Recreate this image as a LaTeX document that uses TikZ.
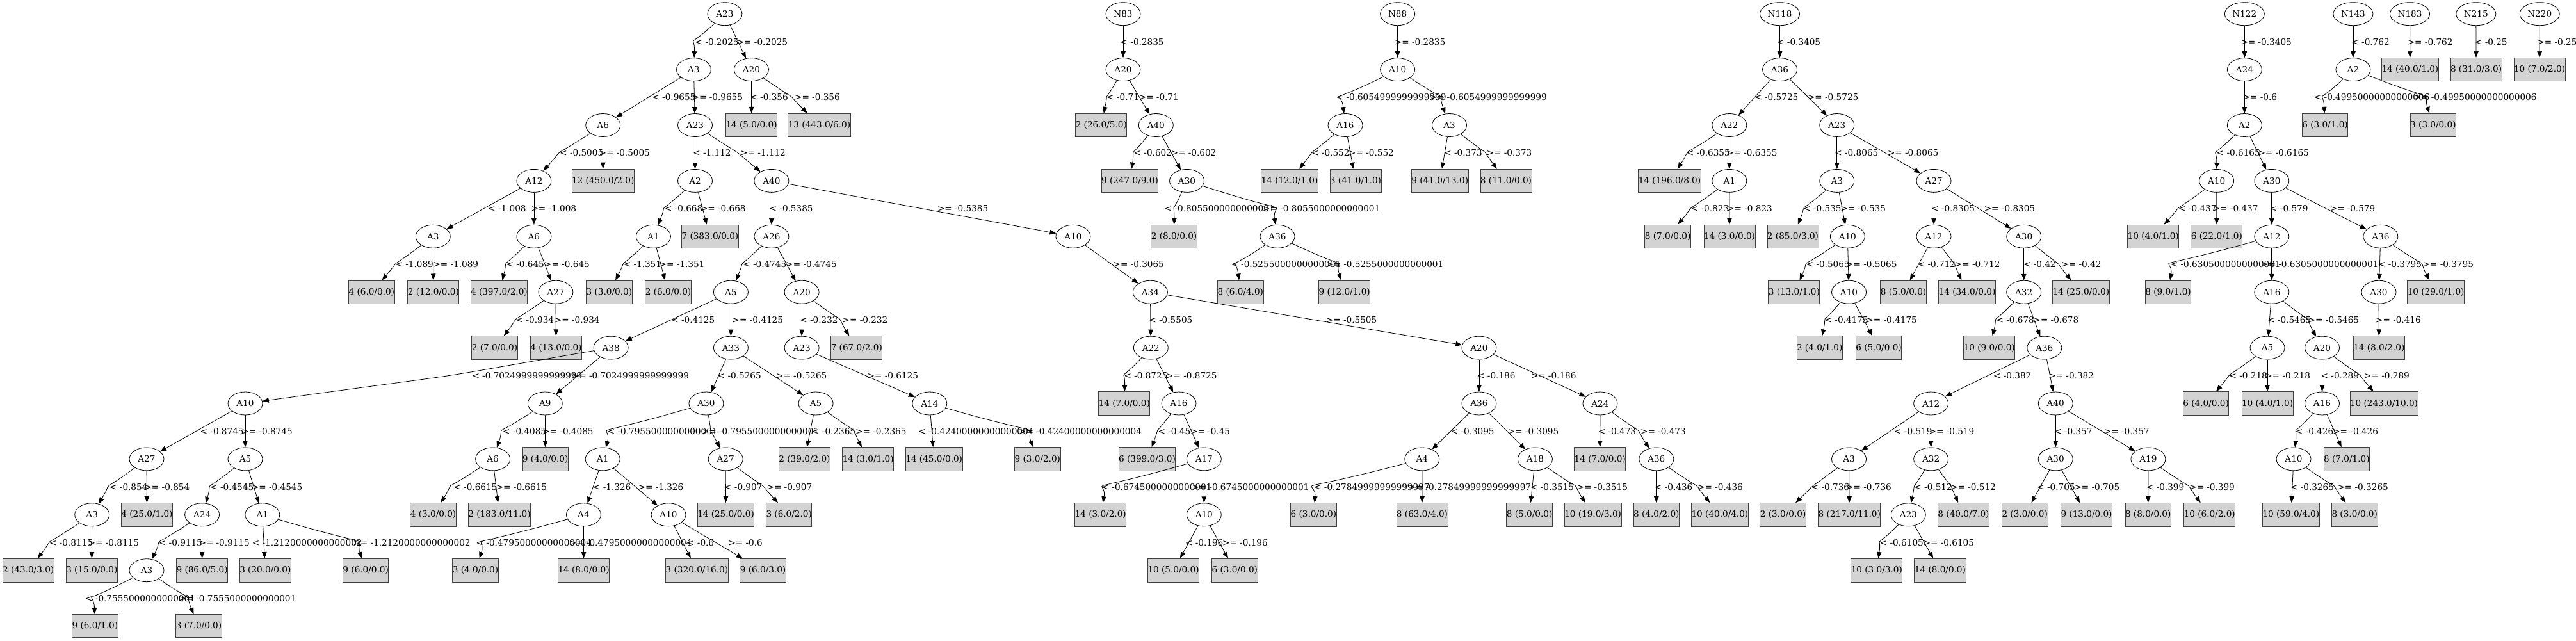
\documentclass[tikz,border=0pt]{standalone}
\usepackage{fontspec}
\setmainfont{DejaVu Serif}
\usetikzlibrary{shapes.geometric,arrows.meta,calc}
\definecolor{leafgray}{HTML}{D3D3D3}
\newcommand\gvfont{\fontsize{13.6}{16}\selectfont}
\tikzset{
  gvnode/.style={ellipse, draw=black, line width=0.8pt, minimum width=54pt, minimum height=36pt, inner sep=3pt, font=\gvfont},
  gvleaf/.style={rectangle, draw=black!75, line width=0.9pt, fill=leafgray, inner xsep=0pt, inner ysep=0pt, minimum height=36.5pt, font=\gvfont},
  gvlab/.style={inner sep=0pt, anchor=west, font=\gvfont},
  gvedge/.style={draw=black, line width=0.8pt, -{Triangle[length=10pt,width=7.5pt]}}
}
% straight edge: parent, child, label x, row, text
\newcommand\es[5]{\draw[gvedge] (#1) -- (#2); \node[gvlab] (l#2) at (#3,#4) {#5};}
% curved edge through (mx,row): parent, child, label x, row, text, mx
\newcommand\ec[6]{\draw[gvedge] (#1) .. controls ($(#1)!4/3!(#6,#4)$) and ($(#2)!4/3!(#6,#4)$) .. (#2); \node[gvlab] (l#2) at (#3,#4) {#5};}
\begin{document}
\begin{tikzpicture}[x=1pt,y=-86.9pt]
\fill[white] (0,-0.2497) rectangle (4023,11.2693);
\useasboundingbox (0,-0.2497) rectangle (4023,11.2693);

% ---------------- Tree 1 (A23) ----------------
\node[gvnode] (a0) at (1131.9,0) {A23};
\node[gvnode] (a1) at (1083.4,1) {A3};
\node[gvnode] (a2) at (1173.4,1) {A20};
\node[gvnode] (a3) at (941.7,2) {A6};
\node[gvnode] (a4) at (1085.5,2) {A23};
\node[gvnode] (a5) at (833.9,3) {A12};
\node[gvnode] (a6) at (1085.5,3) {A2};
\node[gvnode] (a7) at (1204.9,3) {A40};
\node[gvnode] (a8) at (676.3,4) {A3};
\node[gvnode] (a9) at (833.9,4) {A6};
\node[gvnode] (a10) at (1020.4,4) {A1};
\node[gvnode] (a11) at (1204.9,4) {A26};
\node[gvnode] (a12) at (1675.9,4) {A10};
\node[gvnode] (a13) at (867.9,5) {A27};
\node[gvnode] (a14) at (1141.4,5) {A5};
\node[gvnode] (a15) at (1252.1,5) {A20};
\node[gvnode] (a16) at (1796.4,5) {A34};
\node[gvnode] (a17) at (954.1,6) {A38};
\node[gvnode] (a18) at (1141.4,6) {A33};
\node[gvnode] (a19) at (1252.1,6) {A23};
\node[gvnode] (a20) at (1797.3,6) {A22};
\node[gvnode] (a21) at (2309.9,6) {A20};
\node[gvnode] (a22) at (383,7) {A10};
\node[gvnode] (a23) at (851.3,7) {A9};
\node[gvnode] (a24) at (1102.9,7) {A30};
\node[gvnode] (a25) at (1274.1,7) {A5};
\node[gvnode] (a26) at (1451.8,7) {A14};
\node[gvnode] (a27) at (1841,7) {A16};
\node[gvnode] (a28) at (2309.9,7) {A36};
\node[gvnode] (a29) at (2498.9,7) {A24};
\node[gvnode] (a30) at (229,8) {A27};
\node[gvnode] (a31) at (383,8) {A5};
\node[gvnode] (a32) at (769.6,8) {A6};
\node[gvnode] (a33) at (941.2,8) {A1};
\node[gvnode] (a34) at (1133.2,8) {A27};
\node[gvnode] (a35) at (1880.3,8) {A17};
\node[gvnode] (a36) at (2220.8,8) {A4};
\node[gvnode] (a37) at (2397.4,8) {A18};
\node[gvnode] (a38) at (2586.8,8) {A36};
\node[gvnode] (a39) at (143.7,9) {A3};
\node[gvnode] (a40) at (315.6,9) {A24};
\node[gvnode] (a41) at (409.8,9) {A1};
\node[gvnode] (a42) at (911.4,9) {A4};
\node[gvnode] (a43) at (1044,9) {A10};
\node[gvnode] (a44) at (1880.3,9) {A10};
\node[gvnode] (a45) at (229,10) {A3};

\node[gvleaf] (aL1) at (1173.6,2) {14 (5.0/0.0)};
\node[gvleaf] (aL2) at (1279.5,2) {13 (443.0/6.0)};
\node[gvleaf] (aL3) at (941.7,3) {12 (450.0/2.0)};
\node[gvleaf] (aL4) at (1108.9,4) {7 (383.0/0.0)};
\node[gvleaf] (aL5) at (580.3,5) {4 (6.0/0.0)};
\node[gvleaf] (aL6) at (676.9,5) {2 (12.0/0.0)};
\node[gvleaf] (aL7) at (779.4,5) {4 (397.0/2.0)};
\node[gvleaf] (aL8) at (951.4,5) {3 (3.0/0.0)};
\node[gvleaf] (aL9) at (1043.6,5) {2 (6.0/0.0)};
\node[gvleaf] (aL10) at (772.5,6) {2 (7.0/0.0)};
\node[gvleaf] (aL11) at (868.5,6) {4 (13.0/0.0)};
\node[gvleaf] (aL12) at (1337.8,6) {7 (67.0/2.0)};
\node[gvleaf] (aL13) at (1755.8,7) {14 (7.0/0.0)};
\node[gvleaf] (aL14) at (851.7,8) {9 (4.0/0.0)};
\node[gvleaf] (aL15) at (1256.5,8) {2 (39.0/2.0)};
\node[gvleaf] (aL16) at (1355.6,8) {14 (3.0/1.0)};
\node[gvleaf] (aL17) at (1458.7,8) {14 (45.0/0.0)};
\node[gvleaf] (aL18) at (1620.3,8) {9 (3.0/2.0)};
\node[gvleaf] (aL19) at (1791.5,8) {6 (399.0/3.0)};
\node[gvleaf] (aL20) at (2498.7,8) {14 (7.0/0.0)};
\node[gvleaf] (aL21) at (229.5,9) {4 (25.0/1.0)};
\node[gvleaf] (aL22) at (676.6,9) {4 (3.0/0.0)};
\node[gvleaf] (aL23) at (780,9) {2 (183.0/11.0)};
\node[gvleaf] (aL24) at (1133.5,9) {14 (25.0/0.0)};
\node[gvleaf] (aL25) at (1232.2,9) {3 (6.0/2.0)};
\node[gvleaf] (aL26) at (1718.7,9) {14 (3.0/2.0)};
\node[gvleaf] (aL27) at (2051.4,9) {6 (3.0/0.0)};
\node[gvleaf] (aL28) at (2221,9) {8 (63.0/4.0)};
\node[gvleaf] (aL29) at (2388.6,9) {8 (5.0/0.0)};
\node[gvleaf] (aL30) at (2487.6,9) {10 (19.0/3.0)};
\node[gvleaf] (aL31) at (2586.8,9) {8 (4.0/2.0)};
\node[gvleaf] (aL32) at (2685.9,9) {10 (40.0/4.0)};
\node[gvleaf] (aL33) at (44.2,10) {2 (43.0/3.0)};
\node[gvleaf] (aL34) at (143.3,10) {3 (15.0/0.0)};
\node[gvleaf] (aL35) at (315.6,10) {9 (86.0/5.0)};
\node[gvleaf] (aL36) at (414.3,10) {3 (20.0/0.0)};
\node[gvleaf] (aL37) at (571.2,10) {9 (6.0/0.0)};
\node[gvleaf] (aL38) at (742.5,10) {3 (4.0/0.0)};
\node[gvleaf] (aL39) at (911.6,10) {14 (8.0/0.0)};
\node[gvleaf] (aL40) at (1088.4,10) {3 (320.0/16.0)};
\node[gvleaf] (aL41) at (1191.6,10) {9 (6.0/3.0)};
\node[gvleaf] (aL42) at (1832.6,10) {10 (5.0/0.0)};
\node[gvleaf] (aL43) at (1928.3,10) {6 (3.0/0.0)};
\node[gvleaf] (aL44) at (148.4,11) {9 (6.0/1.0)};
\node[gvleaf] (aL45) at (310.5,11) {3 (7.0/0.0)};

\ec{a0}{a1}{1085.5}{0.5}{< -0.2025}{1085}
\es{a0}{a2}{1150.6}{0.5}{>= -0.2025}
\es{a2}{aL1}{1171.3}{1.5}{< -0.356}
\ec{a2}{aL2}{1240.9}{1.5}{>= -0.356}{1236}
\es{a1}{a3}{1018.3}{1.5}{< -0.9655}
\es{a1}{a4}{1080.5}{1.5}{>= -0.9655}
\ec{a3}{a5}{874.1}{2.5}{< -0.5005}{874}
\es{a3}{aL3}{935.4}{2.5}{>= -0.5005}
\es{a4}{a6}{1082.2}{2.5}{< -1.112}
\ec{a4}{a7}{1156}{2.5}{>= -1.112}{1152}
\es{a5}{a8}{762.2}{3.5}{< -1.008}
\es{a5}{a9}{829.3}{3.5}{>= -1.008}
\ec{a6}{a10}{1037.8}{3.5}{< -0.668}{1038}
\es{a6}{aL4}{1093.8}{3.5}{>= -0.668}
\es{a7}{a11}{1201.5}{3.5}{< -0.5385}
\es{a7}{a12}{1463.8}{3.5}{>= -0.5385}
\ec{a8}{aL5}{617.4}{4.5}{< -1.089}{618}
\es{a8}{aL6}{676.3}{4.5}{>= -1.089}
\ec{a9}{aL7}{790.4}{4.5}{< -0.645}{791}
\es{a9}{a13}{850}{4.5}{>= -0.645}
\ec{a10}{aL8}{973.6}{4.5}{< -1.351}{974}
\es{a10}{aL9}{1029.5}{4.5}{>= -1.351}
\ec{a11}{a14}{1160.1}{4.5}{< -0.4745}{1160}
\es{a11}{a15}{1227.2}{4.5}{>= -0.4745}
\es{a12}{a16}{1738.4}{4.5}{>= -0.3065}
\ec{a13}{aL10}{805.7}{5.5}{< -0.934}{806}
\es{a13}{aL11}{865.8}{5.5}{>= -0.934}
\es{a14}{a17}{1048.2}{5.5}{< -0.4125}
\es{a14}{a18}{1143.5}{5.5}{>= -0.4125}
\es{a15}{a19}{1249.2}{5.5}{< -0.232}
\ec{a15}{aL12}{1315.5}{5.5}{>= -0.232}{1311}
\es{a16}{a20}{1794.2}{5.5}{< -0.5505}
\es{a16}{a21}{2070.7}{5.5}{>= -0.5505}
\ec{a17}{a22}{737.3}{6.5}{< -0.7024999999999999}{700}
\es{a17}{a23}{892.7}{6.5}{>= -0.7024999999999999}
\es{a18}{a24}{1120.7}{6.5}{< -0.5265}
\es{a18}{a25}{1211.9}{6.5}{>= -0.5265}
\es{a19}{a26}{1354.5}{6.5}{>= -0.6125}
\ec{a20}{aL13}{1755.3}{6.5}{< -0.8725}{1757}
\es{a20}{a27}{1821}{6.5}{>= -0.8725}
\es{a21}{a28}{2307}{6.5}{< -0.186}
\es{a21}{a29}{2390.6}{6.5}{>= -0.186}
\es{a22}{a30}{312.5}{7.5}{< -0.8745}
\es{a22}{a31}{377.2}{7.5}{>= -0.8745}
\ec{a23}{a32}{785}{7.5}{< -0.4085}{785}
\es{a23}{aL14}{847.1}{7.5}{>= -0.4085}
\ec{a24}{a33}{948.7}{7.5}{< -0.7955000000000001}{953}
\ec{a24}{a34}{1095.8}{7.5}{>= -0.7955000000000001}{1111}
\es{a25}{aL15}{1268}{7.5}{< -0.2365}
\ec{a25}{aL16}{1336}{7.5}{>= -0.2365}{1333}
\es{a26}{aL17}{1433.9}{7.5}{< -0.42400000000000004}
\ec{a26}{aL18}{1591}{7.5}{>= -0.42400000000000004}{1604}
\ec{a27}{aL19}{1808.4}{7.5}{< -0.45}{1808}
\es{a27}{a35}{1858.9}{7.5}{>= -0.45}
\es{a28}{a36}{2265.5}{7.5}{< -0.3095}
\es{a28}{a37}{2354.7}{7.5}{>= -0.3095}
\es{a29}{aL20}{2495.6}{7.5}{< -0.473}
\ec{a29}{a38}{2561.9}{7.5}{>= -0.473}{2558}
\ec{a30}{a39}{171}{8.5}{< -0.854}{170}
\es{a30}{aL21}{225.4}{8.5}{>= -0.854}
\ec{a31}{a40}{328.1}{8.5}{< -0.4545}{329}
\es{a31}{a41}{392.8}{8.5}{>= -0.4545}
\ec{a32}{aL22}{708.3}{8.5}{< -0.6615}{704}
\es{a32}{aL23}{774.6}{8.5}{>= -0.6615}
\es{a33}{a42}{925.9}{8.5}{< -1.326}
\es{a33}{a43}{996.4}{8.5}{>= -1.326}
\es{a34}{aL24}{1131}{8.5}{< -0.907}
\ec{a34}{aL25}{1197.4}{8.5}{>= -0.907}{1192}
\ec{a35}{aL26}{1720.5}{8.5}{< -0.6745000000000001}{1727}
\es{a35}{a44}{1861.1}{8.5}{>= -0.6745000000000001}
\ec{a36}{aL27}{2052}{8.5}{< -0.27849999999999997}{2055}
\es{a36}{aL28}{2199.2}{8.5}{>= -0.27849999999999997}
\es{a37}{aL29}{2389.9}{8.5}{< -0.3515}
\ec{a37}{aL30}{2462.4}{8.5}{>= -0.3515}{2460}
\es{a38}{aL31}{2583.9}{8.5}{< -0.436}
\ec{a38}{aL32}{2651}{8.5}{>= -0.436}{2650}
\ec{a39}{aL33}{76.8}{9.5}{< -0.8115}{78}
\es{a39}{aL34}{137.5}{9.5}{>= -0.8115}
\ec{a40}{a45}{247.8}{9.5}{< -0.9115}{250}
\es{a40}{aL35}{310.3}{9.5}{>= -0.9115}
\es{a41}{aL36}{393.7}{9.5}{< -1.2120000000000002}
\ec{a41}{aL37}{551.3}{9.5}{>= -1.2120000000000002}{557}
\ec{a42}{aL38}{743.5}{9.5}{< -0.47950000000000004}{757}
\es{a42}{aL39}{888.6}{9.5}{>= -0.47950000000000004}
\es{a43}{aL40}{1073}{9.5}{< -0.6}
\es{a43}{aL41}{1137.3}{9.5}{>= -0.6}
\es{a44}{aL42}{1850.9}{9.5}{< -0.196}
\es{a44}{aL43}{1908.9}{9.5}{>= -0.196}
\ec{a45}{aL44}{133}{10.5}{< -0.7555000000000001}{147}
\ec{a45}{aL45}{279}{10.5}{>= -0.7555000000000001}{292}

% ---------------- Tree 2 (N83) ----------------
\node[gvnode] (b0) at (1754,0) {N83};
\node[gvnode] (b1) at (1754,1) {A20};
\node[gvnode] (b2) at (1805.3,2) {A40};
\node[gvnode] (b3) at (1853.5,3) {A30};
\node[gvnode] (b4) at (1995,4) {A36};
\node[gvleaf] (bL1) at (1719.8,2) {2 (26.0/5.0)};
\node[gvleaf] (bL2) at (1764.5,3) {9 (247.0/9.0)};
\node[gvleaf] (bL3) at (1833.5,4) {2 (8.0/0.0)};
\node[gvleaf] (bL4) at (1937.3,5) {8 (6.0/4.0)};
\node[gvleaf] (bL5) at (2099.7,5) {9 (12.0/1.0)};
\es{b0}{b1}{1749.5}{0.5}{< -0.2835}
\ec{b1}{bL1}{1728.1}{1.5}{< -0.71}{1729}
\es{b1}{b2}{1778.6}{1.5}{>= -0.71}
\ec{b2}{bL2}{1770.5}{2.5}{< -0.602}{1771}
\es{b2}{b3}{1828.5}{2.5}{>= -0.602}
\ec{b3}{bL3}{1818.7}{3.5}{< -0.8055000000000001}{1834}
\ec{b3}{b4}{1972}{3.5}{>= -0.8055000000000001}{1988}
\ec{b4}{bL4}{1922.3}{4.5}{< -0.5255000000000001}{1932}
\ec{b4}{bL5}{2071}{4.5}{>= -0.5255000000000001}{2087}

% ---------------- Tree 3 (N88) ----------------
\node[gvnode] (c0) at (2182.6,0) {N88};
\node[gvnode] (c1) at (2182.6,1) {A10};
\node[gvnode] (c2) at (2101,2) {A16};
\node[gvnode] (c3) at (2263.5,2) {A3};
\node[gvleaf] (cL1) at (2014,3) {14 (12.0/1.0)};
\node[gvleaf] (cL2) at (2117,3) {3 (41.0/1.0)};
\node[gvleaf] (cL3) at (2248.8,3) {9 (41.0/13.0)};
\node[gvleaf] (cL4) at (2352,3) {8 (11.0/0.0)};
\es{c0}{c1}{2177.7}{0.5}{>= -0.2835}
\ec{c1}{c2}{2086.5}{1.5}{< -0.6054999999999999}{2096}
\ec{c1}{c3}{2232.4}{1.5}{>= -0.6054999999999999}{2248}
\ec{c2}{cL1}{2048}{2.5}{< -0.552}{2049}
\es{c2}{cL2}{2106}{2.5}{>= -0.552}
\es{c3}{cL3}{2255.2}{2.5}{< -0.373}
\ec{c3}{cL4}{2321.5}{2.5}{>= -0.373}{2319}

% ---------------- Tree 4 (N118) ----------------
\node[gvnode] (d0) at (2779.5,0) {N118};
\node[gvnode] (d1) at (2779.5,1) {A36};
\node[gvnode] (d2) at (2700.8,2) {A22};
\node[gvnode] (d3) at (2868.7,2) {A23};
\node[gvnode] (d4) at (2700.8,3) {A1};
\node[gvnode] (d5) at (2868.7,3) {A3};
\node[gvnode] (d6) at (3020,3) {A27};
\node[gvnode] (d7) at (2885.3,4) {A10};
\node[gvnode] (d8) at (3020,4) {A12};
\node[gvnode] (d9) at (3160.7,4) {A30};
\node[gvnode] (d10) at (2887.5,5) {A10};
\node[gvnode] (d11) at (3160.7,5) {A32};
\node[gvnode] (d12) at (3192.8,6) {A36};
\node[gvnode] (d13) at (3015.6,7) {A12};
\node[gvnode] (d14) at (3210.2,7) {A40};
\node[gvnode] (d15) at (2887.5,8) {A3};
\node[gvnode] (d16) at (3015.6,8) {A32};
\node[gvnode] (d17) at (3210.2,8) {A30};
\node[gvnode] (d18) at (3354.9,8) {A19};
\node[gvnode] (d19) at (2980.3,9) {A23};
\node[gvleaf] (dL1) at (2607.5,3) {14 (196.0/8.0)};
\node[gvleaf] (dL2) at (2604.6,4) {8 (7.0/0.0)};
\node[gvleaf] (dL3) at (2701,4) {14 (3.0/0.0)};
\node[gvleaf] (dL4) at (2800,4) {2 (85.0/3.0)};
\node[gvleaf] (dL5) at (2801.8,5) {3 (13.0/1.0)};
\node[gvleaf] (dL6) at (2972.5,5) {8 (5.0/0.0)};
\node[gvleaf] (dL7) at (3072,5) {14 (34.0/0.0)};
\node[gvleaf] (dL8) at (3249.8,5) {14 (25.0/0.0)};
\node[gvleaf] (dL9) at (2841.7,6) {2 (4.0/1.0)};
\node[gvleaf] (dL10) at (2934,6) {6 (5.0/0.0)};
\node[gvleaf] (dL11) at (3106.7,6) {10 (9.0/0.0)};
\node[gvleaf] (dL12) at (2784.6,9) {2 (3.0/0.0)};
\node[gvleaf] (dL13) at (2888.2,9) {8 (217.0/11.0)};
\node[gvleaf] (dL14) at (3066.5,9) {8 (40.0/7.0)};
\node[gvleaf] (dL15) at (3162.2,9) {2 (3.0/0.0)};
\node[gvleaf] (dL16) at (3258.5,9) {9 (13.0/0.0)};
\node[gvleaf] (dL17) at (3354.7,9) {8 (8.0/0.0)};
\node[gvleaf] (dL18) at (3450.7,9) {10 (6.0/2.0)};
\node[gvleaf] (dL19) at (2930.8,10) {10 (3.0/3.0)};
\node[gvleaf] (dL20) at (3029.9,10) {14 (8.0/0.0)};
\es{d0}{d1}{2775}{0.5}{< -0.3405}
\es{d1}{d2}{2740.2}{1.5}{< -0.5725}
\es{d1}{d3}{2822.8}{1.5}{>= -0.5725}
\ec{d2}{dL1}{2633.6}{2.5}{< -0.6355}{2636}
\es{d2}{d4}{2696}{2.5}{>= -0.6355}
\ec{d4}{dL2}{2640.7}{3.5}{< -0.823}{2641}
\es{d4}{dL3}{2697}{3.5}{>= -0.823}
\es{d3}{d5}{2865.2}{2.5}{< -0.8065}
\es{d3}{d6}{2947.8}{2.5}{>= -0.8065}
\ec{d5}{dL4}{2816.1}{3.5}{< -0.535}{2818}
\es{d5}{d7}{2874.1}{3.5}{>= -0.535}
\es{d6}{d8}{3016}{3.5}{< -0.8305}
\es{d6}{d9}{3098.6}{3.5}{>= -0.8305}
\ec{d7}{dL5}{2820.5}{4.5}{< -0.5065}{2822}
\es{d7}{d10}{2883}{4.5}{>= -0.5065}
\es{d8}{dL6}{2994.6}{4.5}{< -0.712}
\ec{d8}{dL7}{3052.7}{4.5}{>= -0.712}{3052}
\es{d9}{d11}{3159.8}{4.5}{< -0.42}
\ec{d9}{dL8}{3219.2}{4.5}{>= -0.42}{3214}
\ec{d10}{dL9}{2849.5}{5.5}{< -0.4175}{2851}
\es{d10}{dL10}{2914.3}{5.5}{>= -0.4175}
\ec{d11}{dL11}{3117.4}{5.5}{< -0.678}{3118}
\es{d11}{d12}{3175.4}{5.5}{>= -0.678}
\es{d12}{d13}{3112.9}{6.5}{< -0.382}
\es{d12}{d14}{3199.1}{6.5}{>= -0.382}
\es{d13}{d15}{2958}{7.5}{< -0.519}
\es{d13}{d16}{3012.5}{7.5}{>= -0.519}
\es{d14}{d17}{3208}{7.5}{< -0.357}
\es{d14}{d18}{3285.7}{7.5}{>= -0.357}
\ec{d15}{dL12}{2828.6}{8.5}{< -0.736}{2830}
\es{d15}{dL13}{2883}{8.5}{>= -0.736}
\ec{d16}{d19}{2989.3}{8.5}{< -0.512}{2990}
\ec{d16}{dL14}{3046}{8.5}{>= -0.512}{3047}
\es{d17}{dL15}{3181.2}{8.5}{< -0.705}
\es{d17}{dL16}{3239.3}{8.5}{>= -0.705}
\es{d18}{dL17}{3351.8}{8.5}{< -0.399}
\ec{d18}{dL18}{3419}{8.5}{>= -0.399}{3418}
\ec{d19}{dL19}{2935.7}{9.5}{< -0.6105}{2937}
\es{d19}{dL20}{3003.5}{9.5}{>= -0.6105}

% ---------------- Tree 5 (N122) ----------------
\node[gvnode] (e0) at (3505.3,0) {N122};
\node[gvnode] (e1) at (3505.3,1) {A24};
\node[gvnode] (e2) at (3505.3,2) {A2};
\node[gvnode] (e3) at (3461.6,3) {A10};
\node[gvnode] (e4) at (3547.8,3) {A30};
\node[gvnode] (e5) at (3547.8,4) {A12};
\node[gvnode] (e6) at (3717.8,4) {A36};
\node[gvnode] (e7) at (3547.8,5) {A16};
\node[gvnode] (e8) at (3715,5) {A30};
\node[gvnode] (e9) at (3541,6) {A5};
\node[gvnode] (e10) at (3626.5,6) {A20};
\node[gvnode] (e11) at (3626.5,7) {A16};
\node[gvnode] (e12) at (3582,8) {A10};
\node[gvleaf] (eL1) at (3362.7,4) {10 (4.0/1.0)};
\node[gvleaf] (eL2) at (3461.8,4) {6 (22.0/1.0)};
\node[gvleaf] (eL3) at (3386,5) {8 (9.0/1.0)};
\node[gvleaf] (eL4) at (3804.1,5) {10 (29.0/1.0)};
\node[gvleaf] (eL5) at (3715.3,6) {14 (8.0/2.0)};
\node[gvleaf] (eL6) at (3445.1,7) {6 (4.0/0.0)};
\node[gvleaf] (eL7) at (3541,7) {10 (4.0/1.0)};
\node[gvleaf] (eL8) at (3723,7) {10 (243.0/10.0)};
\node[gvleaf] (eL9) at (3664.9,8) {8 (7.0/1.0)};
\node[gvleaf] (eL10) at (3577.8,9) {10 (59.0/4.0)};
\node[gvleaf] (eL11) at (3677.2,9) {8 (3.0/0.0)};
\es{e0}{e1}{3499.3}{0.5}{>= -0.3405}
\es{e1}{e2}{3502.5}{1.5}{>= -0.6}
\ec{e2}{e3}{3461.6}{2.5}{< -0.6165}{3462}
\es{e2}{e4}{3526.3}{2.5}{>= -0.6165}
\ec{e3}{eL1}{3402}{3.5}{< -0.437}{3402}
\es{e3}{eL2}{3455.6}{3.5}{>= -0.437}
\es{e4}{e5}{3545}{3.5}{< -0.579}
\es{e4}{e6}{3638.4}{3.5}{>= -0.579}
\ec{e5}{eL3}{3389.7}{4.5}{< -0.6305000000000001}{3393}
\es{e5}{e7}{3531}{4.5}{>= -0.6305000000000001}
\es{e6}{e8}{3713.9}{4.5}{< -0.3795}
\ec{e6}{eL4}{3783.4}{4.5}{>= -0.3795}{3781}
\es{e7}{e9}{3541}{5.5}{< -0.5465}
\ec{e7}{e10}{3604.6}{5.5}{>= -0.5465}{3603}
\es{e8}{eL5}{3709.9}{5.5}{>= -0.416}
\ec{e9}{eL6}{3481.4}{6.5}{< -0.218}{3482}
\es{e9}{eL7}{3537.1}{6.5}{>= -0.218}
\es{e10}{e11}{3624.5}{6.5}{< -0.289}
\ec{e10}{eL8}{3692}{6.5}{>= -0.289}{3685}
\ec{e11}{e12}{3584.7}{7.5}{< -0.426}{3587}
\es{e11}{eL9}{3643.1}{7.5}{>= -0.426}
\es{e12}{eL10}{3576.8}{8.5}{< -0.3265}
\ec{e12}{eL11}{3650.3}{8.5}{>= -0.3265}{3645}

% ---------------- Trees 6-9 ----------------
\node[gvnode] (f0) at (3674.9,0) {N143};
\node[gvnode] (f1) at (3674.9,1) {A2};
\node[gvleaf] (fL1) at (3631,2) {6 (3.0/1.0)};
\node[gvleaf] (fL2) at (3799.9,2) {3 (3.0/0.0)};
\es{f0}{f1}{3672.2}{0.5}{< -0.762}
\ec{f1}{fL1}{3613.7}{1.5}{< -0.49950000000000006}{3629}
\ec{f1}{fL2}{3769.5}{1.5}{>= -0.49950000000000006}{3786}

\node[gvnode] (g0) at (3763.5,0) {N183};
\node[gvleaf] (gL1) at (3763.9,1) {14 (40.0/1.0)};
\es{g0}{gL1}{3759.6}{0.5}{>= -0.762}

\node[gvnode] (h0) at (3866.8,0) {N215};
\node[gvleaf] (hL1) at (3867,1) {8 (31.0/3.0)};
\es{h0}{hL1}{3864.8}{0.5}{< -0.25}

\node[gvnode] (i0) at (3966.2,0) {N220};
\node[gvleaf] (iL1) at (3966,1) {10 (7.0/2.0)};
\es{i0}{iL1}{3962.2}{0.5}{>= -0.25}
\end{tikzpicture}
\end{document}
